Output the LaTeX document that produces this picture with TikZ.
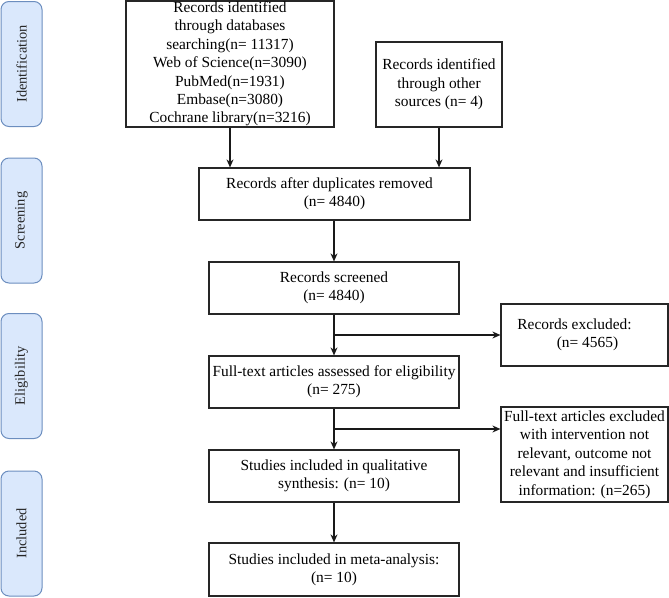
\documentclass[tikz,border=0pt]{standalone}
\usepackage{fontspec}
\setmainfont{Liberation Serif}
\usetikzlibrary{arrows.meta}
\definecolor{sidefill}{HTML}{DAE8FC}
\definecolor{sidedraw}{HTML}{6C8EBF}
\begin{document}
\begin{tikzpicture}[x=1pt,y=1pt,
  box/.style={draw=black!85, line width=1.2pt, inner sep=0pt, align=center,
    font=\fontsize{15.4}{18.4}\selectfont},
  side/.style={draw=sidedraw, fill=sidefill, rounded corners=8pt, line width=1pt,
    minimum width=125pt, minimum height=41pt, inner sep=0pt, rotate=90,
    font=\fontsize{14.4}{18}\selectfont, text=black!85},
  arr/.style={-{Stealth[length=8pt,width=7pt]}, line width=1.1pt, black!90}]
\useasboundingbox (0,0) rectangle (669,-597);
% phase labels
\node[side] (sid) at (21.5,-64) {Identification};
\node[side] (sscr) at (21.5,-220.5) {Screening};
\node[side] (selig) at (21.5,-376) {Eligibility};
\node[side] (sinc) at (21.5,-533.5) {Included};
% boxes
\node[box, minimum width=208pt, minimum height=126pt] (b1) at (230,-64)
  {Records identified\\through databases\\searching(n= 11317)\\Web of Science(n=3090)\\PubMed(n=1931)\\Embase(n=3080)\\Cochrane library(n=3216)};
\node[box, minimum width=126pt, minimum height=85pt] (b2) at (439,-84.5)
  {Records identified\\through other\\sources (n= 4)};
\node[box, minimum width=271pt, minimum height=52pt] (b3) at (334.5,-194)
  {Records after duplicates removed\hspace*{10pt}\\(n= 4840)};
\node[box, minimum width=250pt, minimum height=52pt] (b4) at (334,-288)
  {Records screened\\(n= 4840)};
\node[box, minimum width=250pt, minimum height=52pt] (b5) at (334,-382)
  {Full-text articles assessed for eligibility\\(n= 275)};
\node[box, minimum width=167pt, minimum height=62pt] (b6) at (584.5,-335)
  {Records excluded:\hspace*{20pt}\\\hspace*{6pt}(n= 4565)};
\node[box, minimum width=250pt, minimum height=52pt] (b7) at (334,-476)
  {Studies included in qualitative\\synthesis: (n= 10)};
\node[box, minimum width=167pt, minimum height=95pt] (b8) at (584.5,-454.5)
  {Full-text articles excluded\\with intervention not\\relevant, outcome not\\relevant and insufficient\\information: (n=265)};
\node[box, minimum width=250pt, minimum height=53pt] (b9) at (334,-569.5)
  {Studies included in meta-analysis:\\(n= 10)};
% connectors
\draw[arr] (b1.south) -- (b1.south |- b3.north);
\draw[arr] (b2.south) -- (b2.south |- b3.north);
\draw[arr] (b4.north |- b3.south) -- (b4.north);
\draw[arr] (b4.south) -- (b5.north);
\draw[arr] (b5.south) -- (b7.north);
\draw[arr] (b7.south) -- (b9.north);
\coordinate (j1) at (b4.south |- b6.west);
\draw[arr] (j1) -- (b6.west);
\coordinate (j2) at (334,-429);
\draw[arr] (j2) -- (j2 -| b8.west);
\end{tikzpicture}
\end{document}
